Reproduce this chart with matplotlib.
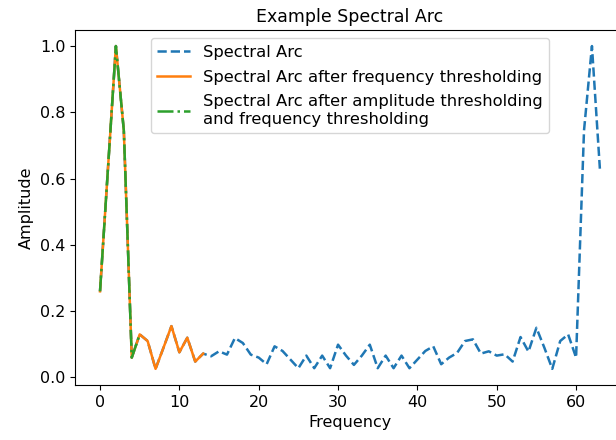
import numpy as np
import matplotlib
matplotlib.use("Agg")
import matplotlib.pyplot as plt

# spectral arc magnitudes (index = frequency bin)
amplitude = [0.26, 0.63, 1.0, 0.745, 0.06, 0.13, 0.11, 0.026, 0.09, 0.155,
             0.076, 0.12, 0.048, 0.072, 0.064, 0.079, 0.069, 0.119, 0.104, 0.069,
             0.06, 0.04, 0.094, 0.08, 0.054, 0.028, 0.066, 0.028, 0.066, 0.028,
             0.099, 0.066, 0.038, 0.066, 0.099, 0.028, 0.066, 0.028, 0.066, 0.028,
             0.054, 0.08, 0.094, 0.04, 0.06, 0.074, 0.11, 0.115, 0.072, 0.079,
             0.066, 0.07, 0.048, 0.122, 0.078, 0.15, 0.09, 0.026, 0.11, 0.13,
             0.06, 0.745, 1.0, 0.63]
freq = np.arange(len(amplitude))

n_freq_thr = 14   # bins kept after frequency thresholding
n_amp_thr = 6     # bins kept after amplitude + frequency thresholding

plt.rcParams['font.size'] = 11.5
plt.rcParams['lines.linewidth'] = 1.8

fig = plt.figure(figsize=(6.16, 4.4), dpi=100)
# the axes runs past the right edge, like the cropped notebook output
ax = fig.add_axes([0.1218, 0.125, 0.8926, 0.807])

ax.plot(freq, amplitude, '--', color='C0', label='Spectral Arc')
ax.plot(freq[:n_freq_thr], amplitude[:n_freq_thr], '-', color='C1',
        label='Spectral Arc after frequency thresholding')
ax.plot(freq[:n_amp_thr], amplitude[:n_amp_thr], '-.', color='C2',
        label='Spectral Arc after amplitude thresholding\nand frequency thresholding')

ax.set_title('Example Spectral Arc', fontsize=12.5)
ax.set_xlabel('Frequency')
ax.set_ylabel('Amplitude')
ax.legend(loc='upper center', fontsize=11.8, labelspacing=0.6)

fig.savefig('out.png', dpi=100)
